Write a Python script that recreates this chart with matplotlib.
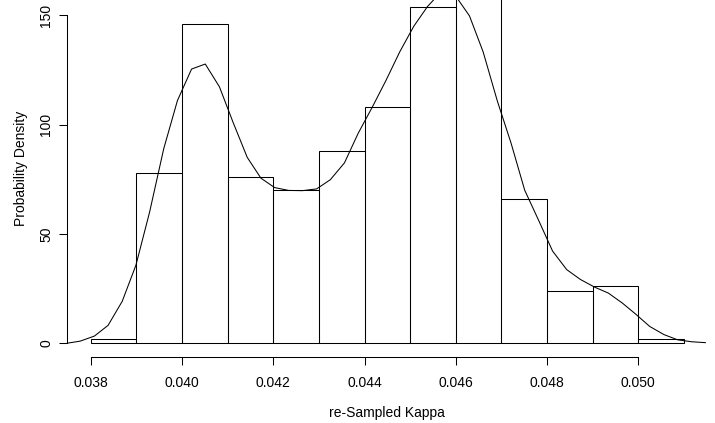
import matplotlib
matplotlib.use('Agg')
import matplotlib.pyplot as plt
import numpy as np

plt.rcParams['font.family'] = ['Liberation Sans', 'DejaVu Sans']

# histogram (density scale), bin width 0.001
bin_left = [0.038, 0.039, 0.040, 0.041, 0.042, 0.043, 0.044,
            0.045, 0.046, 0.047, 0.048, 0.049, 0.050]
bin_dens = [2, 78, 146, 76, 70, 88, 108, 154, 160, 66, 24, 26, 2]
bin_width = 0.001

# kernel density estimate
kde_x = [0.03747, 0.03777, 0.03808, 0.03838, 0.03869, 0.03899, 0.03929,
         0.03960, 0.03990, 0.04021, 0.04051, 0.04082, 0.04112, 0.04143,
         0.04173, 0.04203, 0.04234, 0.04264, 0.04295, 0.04325, 0.04356,
         0.04386, 0.04417, 0.04447, 0.04477, 0.04508, 0.04538, 0.04569,
         0.04599, 0.04630, 0.04660, 0.04691, 0.04721, 0.04751, 0.04782,
         0.04812, 0.04843, 0.04873, 0.04904, 0.04934, 0.04965, 0.04995,
         0.05025, 0.05056, 0.05086, 0.05117, 0.05147]
kde_y = [0, 1.0, 3.3, 8.2, 19.2, 35.7, 60, 89, 111, 125.4, 127.7, 117.3,
         101, 85, 75.5, 71.2, 69.9, 69.8, 70.6, 74.8, 82.5, 96, 108, 120.2,
         133.2, 145, 154, 161, 159, 149.7, 133.2, 110.8, 91.6, 70, 56, 42.2,
         33.7, 29.2, 25.7, 23.0, 18.4, 13.2, 7.7, 4.0, 1.6, 0.7, 0.3]

xticks = [0.038, 0.040, 0.042, 0.044, 0.046, 0.048, 0.050]
yticks = [0, 50, 100, 150]

fig = plt.figure(figsize=(7.15, 4.23), dpi=100)
ax = fig.add_axes([67 / 715, (423 - 357.3) / 423, 640.7 / 715, 377.9 / 423])

ax.bar(bin_left, bin_dens, width=bin_width, align='edge', fill=False,
       edgecolor='black', linewidth=0.75)
ax.plot(kde_x, kde_y, color='black', linewidth=0.75)

ax.set_xlim(0.03748, 0.05152)
ax.set_ylim(-6.4, 166.4)

for s in ['top', 'right']:
    ax.spines[s].set_visible(False)
ax.spines['bottom'].set_bounds(0.038, 0.050)
ax.spines['left'].set_bounds(0, 150)
for s in ['bottom', 'left']:
    ax.spines[s].set_linewidth(0.75)

ax.set_xticks(xticks)
ax.set_xticklabels(['%.3f' % t for t in xticks])
ax.set_yticks(yticks)
ax.set_yticklabels([str(t) for t in yticks], rotation=90, va='center')
ax.tick_params(axis='x', length=5.8, width=0.75, pad=8, labelsize=10)
ax.tick_params(axis='y', length=5.8, width=0.75, pad=4, labelsize=10)

ax.set_xlabel('re-Sampled Kappa', fontsize=10, labelpad=11)
ax.set_ylabel('Probability Density', fontsize=10, labelpad=8)

fig.savefig('out.png', dpi=100)
